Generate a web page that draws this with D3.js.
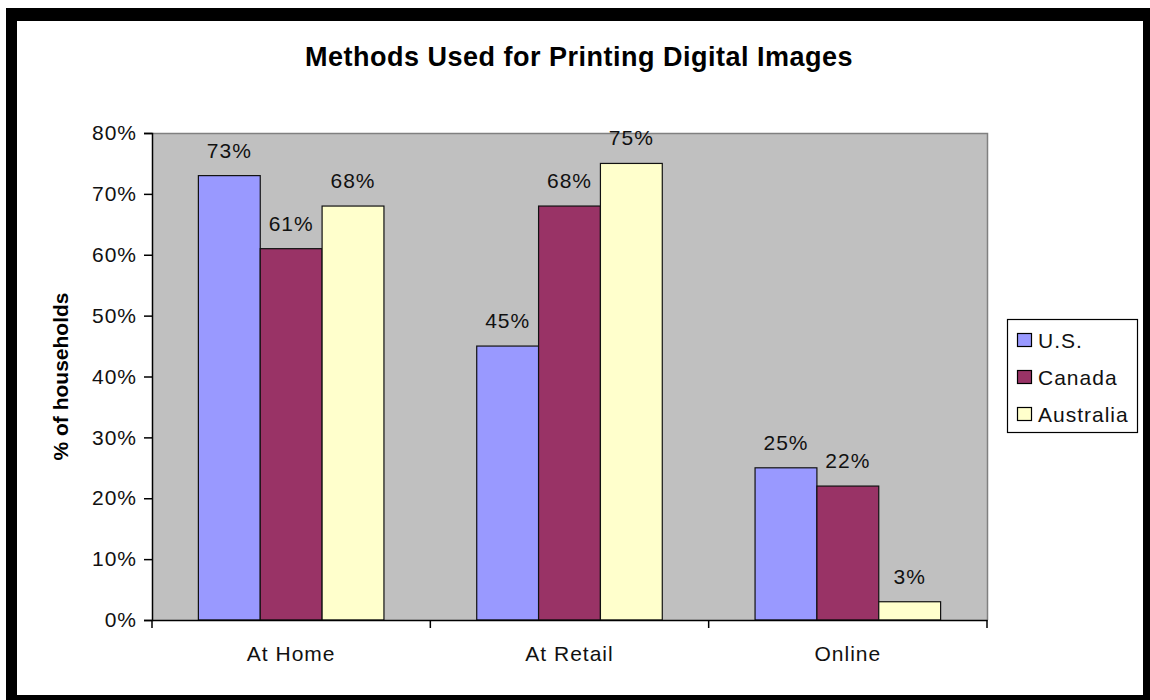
<!DOCTYPE html>
<html>
<head>
<meta charset="utf-8">
<script src="https://cdn.jsdelivr.net/npm/d3@7"></script>
<style>
  html, body { margin: 0; padding: 0; background: #fff; }
  svg { display: block; }
  text { font-family: "Liberation Sans", Arial, sans-serif; }
</style>
</head>
<body>
<svg id="chart" width="1150" height="700"></svg>
<script>
const title = "Methods Used for Printing Digital Images";
const yAxisLabel = "% of households";
const categories = ["At Home", "At Retail", "Online"];
const seriesNames = ["U.S.", "Canada", "Australia"];
const seriesColors = ["#9999FF", "#993366", "#FFFFCC"];
const usValues = [0.73, 0.45, 0.25];
const canadaValues = [0.61, 0.68, 0.22];
const australiaValues = [0.68, 0.75, 0.03];
const yTicks = [0, 0.1, 0.2, 0.3, 0.4, 0.5, 0.6, 0.7, 0.8];

const seriesValues = [usValues, canadaValues, australiaValues];

const svg = d3.select("#chart");

// outer frame
svg.append("rect").attr("x", 6).attr("y", 8).attr("width", 1144).attr("height", 692).attr("fill", "#000");
svg.append("rect").attr("x", 17).attr("y", 21).attr("width", 1126).attr("height", 674).attr("fill", "#fff");

const plot = { left: 152, right: 987, top: 133, bottom: 620 };

const x0 = d3.scaleBand().domain(categories).range([plot.left, plot.right]).padding(0);
const x1 = d3.scaleBand().domain(seriesNames).range([0, x0.bandwidth()]).paddingInner(0).paddingOuter(0.75);
const y = d3.scaleLinear().domain([0, 0.8]).range([plot.bottom, plot.top]);
const color = d3.scaleOrdinal().domain(seriesNames).range(seriesColors);

// plot area
svg.append("rect")
  .attr("x", plot.left).attr("y", plot.top)
  .attr("width", plot.right - plot.left).attr("height", plot.bottom - plot.top)
  .attr("fill", "#C0C0C0");
svg.append("path")
  .attr("d", `M${plot.left},${plot.top + 0.5}H${plot.right + 0.5}V${plot.bottom}`)
  .attr("fill", "none").attr("stroke", "#808080").attr("stroke-width", 1.5);

// title
svg.append("text")
  .attr("x", 579).attr("y", 66)
  .attr("text-anchor", "middle")
  .attr("font-size", 27).attr("font-weight", "bold")
  .attr("letter-spacing", 0.5)
  .text(title);

// bars
const rows = [];
categories.forEach((c, i) => {
  seriesNames.forEach((s, j) => rows.push({ cat: c, series: s, value: seriesValues[j][i] }));
});

const barG = svg.append("g");
barG.selectAll("rect").data(rows).join("rect")
  .attr("x", d => x0(d.cat) + x1(d.series))
  .attr("y", d => y(d.value))
  .attr("width", x1.bandwidth())
  .attr("height", d => y(0) - y(d.value))
  .attr("fill", d => color(d.series))
  .attr("stroke", "#111")
  .attr("stroke-width", 1.2);

barG.selectAll("text").data(rows).join("text")
  .attr("x", d => x0(d.cat) + x1(d.series) + x1.bandwidth() / 2)
  .attr("y", d => y(d.value) - 18)
  .attr("text-anchor", "middle")
  .attr("font-size", 21)
  .attr("letter-spacing", 1)
  .attr("fill", "#111")
  .text(d => d3.format(".0%")(d.value));

// y axis
const yAxis = svg.append("g")
  .attr("transform", `translate(${plot.left},0)`)
  .call(d3.axisLeft(y).tickValues(yTicks).tickFormat(d3.format(".0%")).tickSize(8).tickPadding(7));
yAxis.select(".domain").attr("stroke", "#000").attr("stroke-width", 1.5);
yAxis.selectAll(".tick line").attr("stroke", "#000").attr("stroke-width", 1.5);
yAxis.selectAll(".tick text")
  .attr("font-size", 21).attr("letter-spacing", 1).attr("fill", "#111")
  .attr("font-family", "Liberation Sans, Arial, sans-serif");

// x axis
const xAxis = svg.append("g")
  .attr("transform", `translate(0,${plot.bottom})`)
  .call(d3.axisBottom(x0).tickSize(0).tickPadding(26));
xAxis.select(".domain").attr("stroke", "#000").attr("stroke-width", 1.5);
xAxis.selectAll(".tick text")
  .attr("font-size", 21).attr("letter-spacing", 1).attr("fill", "#111")
  .attr("font-family", "Liberation Sans, Arial, sans-serif");
// category separator ticks
const sepTicks = categories.map(c => x0(c)).concat([x0(categories[categories.length - 1]) + x0.bandwidth()]);
svg.append("g").selectAll("line").data(sepTicks).join("line")
  .attr("x1", d => d).attr("x2", d => d)
  .attr("y1", plot.bottom).attr("y2", plot.bottom + 8)
  .attr("stroke", "#000").attr("stroke-width", 1.5);

// y axis label
svg.append("text")
  .attr("transform", `translate(68,${(plot.top + plot.bottom) / 2}) rotate(-90)`)
  .attr("text-anchor", "middle")
  .attr("font-size", 21).attr("font-weight", "bold")
  .text(yAxisLabel);

// legend
const legend = svg.append("g");
legend.append("rect")
  .attr("x", 1007.5).attr("y", 319.5).attr("width", 130).attr("height", 113)
  .attr("fill", "#fff").attr("stroke", "#000").attr("stroke-width", 1.2);
const legendRowY = d3.scalePoint().domain(seriesNames).range([340, 414]);
const items = legend.selectAll("g.item").data(seriesNames).join("g").attr("class", "item");
items.append("rect")
  .attr("x", 1017.5).attr("y", d => legendRowY(d) - 6.5)
  .attr("width", 14).attr("height", 13)
  .attr("fill", d => color(d)).attr("stroke", "#000").attr("stroke-width", 1.2);
items.append("text")
  .attr("x", 1038).attr("y", d => legendRowY(d) + 7.5)
  .attr("font-size", 21).attr("letter-spacing", 1).attr("fill", "#111")
  .text(d => d);
</script>
</body>
</html>
